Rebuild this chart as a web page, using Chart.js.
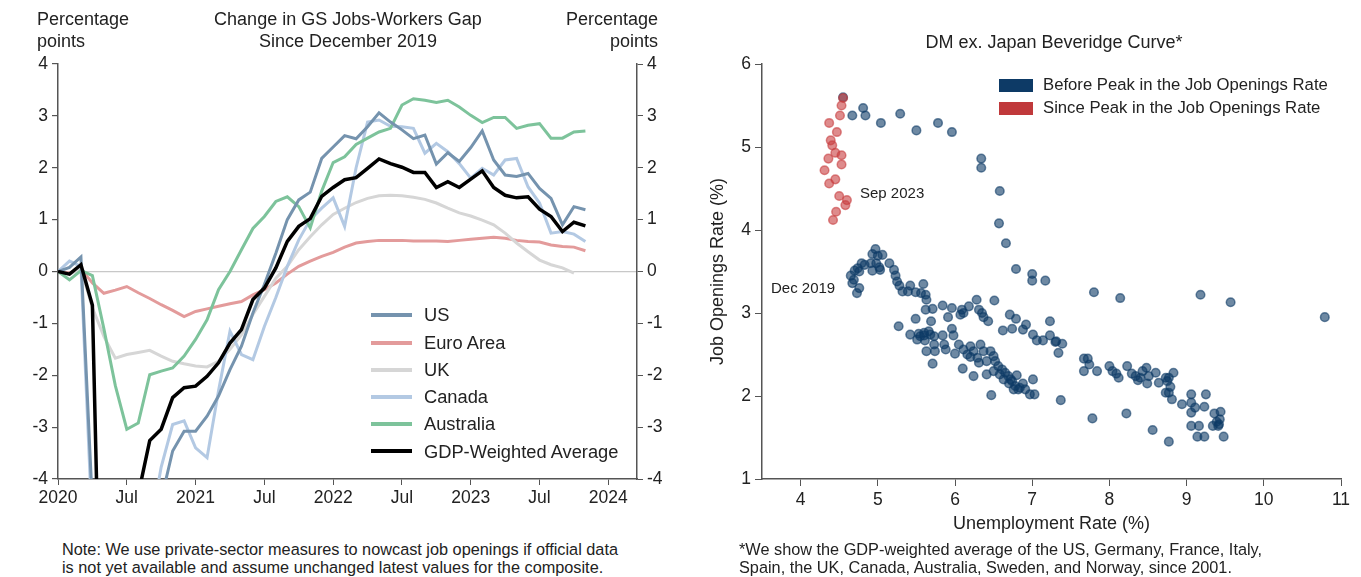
<!DOCTYPE html>
<html>
<head>
<meta charset="utf-8">
<script src="https://cdn.jsdelivr.net/npm/chart.js@4.4.1/dist/chart.umd.min.js"></script>
<style>
body { margin: 0; background: #fff; width: 1361px; height: 577px; overflow: hidden; position: relative;
       font-family: "Liberation Sans", Arial, sans-serif; color: #222; }
.t { position: absolute; white-space: nowrap; }
.hdr { font-size: 18px; line-height: 22px; }
.leg { font-size: 18.3px; line-height: 20px; }
.leg2 { font-size: 16.7px; line-height: 20px; }
.note { font-size: 16.3px; line-height: 17.5px; }
.swatch { position: absolute; height: 4px; width: 41px; left: 371px; }
#wrap1 { position: absolute; left: 0; top: 0; }
#wrap2 { position: absolute; left: 680px; top: 0; }
</style>
</head>
<body>
<div id="wrap1"><canvas id="gapChart" width="690" height="510"></canvas></div>
<div id="wrap2"><canvas id="beveridgeChart" width="681" height="540"></canvas></div>

<!-- left panel texts -->
<div class="t hdr" style="left:37px;top:8px;">Percentage<br>points</div>
<div class="t hdr" style="left:148px;top:8px;width:400px;text-align:center;">Change in GS Jobs-Workers Gap<br>Since December 2019</div>
<div class="t hdr" style="left:558px;top:8px;width:100px;text-align:right;">Percentage<br>points</div>

<div class="swatch" style="top:313px;background:#7593ae;"></div>
<div class="swatch" style="top:341px;background:#e39b9b;"></div>
<div class="swatch" style="top:368px;background:#d6d6d6;"></div>
<div class="swatch" style="top:395px;background:#b3c9e3;"></div>
<div class="swatch" style="top:422px;background:#7dc39b;"></div>
<div class="swatch" style="top:449px;background:#000;height:4px;"></div>
<div class="t leg" style="left:424px;top:305px;">US</div>
<div class="t leg" style="left:424px;top:333px;">Euro Area</div>
<div class="t leg" style="left:424px;top:360px;">UK</div>
<div class="t leg" style="left:424px;top:387px;">Canada</div>
<div class="t leg" style="left:424px;top:414px;">Australia</div>
<div class="t leg" style="left:424px;top:442px;">GDP-Weighted Average</div>

<div class="t note" style="left:62px;top:541px;">Note: We use private-sector measures to nowcast job openings if official data<br>is not yet available and assume unchanged latest values for the composite.</div>

<!-- right panel texts -->
<div class="t hdr" style="left:854px;top:31px;width:400px;text-align:center;">DM ex. Japan Beveridge Curve*</div>
<div class="t" style="left:999px;top:79px;width:34px;height:13px;background:#0d3a66;"></div>
<div class="t" style="left:999px;top:102px;width:34px;height:13px;background:#c0393b;"></div>
<div class="t leg2" style="left:1043px;top:75px;">Before Peak in the Job Openings Rate</div>
<div class="t leg2" style="left:1043px;top:98px;">Since Peak in the Job Openings Rate</div>
<div class="t" style="left:860px;top:184px;font-size:15px;line-height:18px;">Sep 2023</div>
<div class="t" style="left:771px;top:279px;font-size:15px;line-height:18px;">Dec 2019</div>

<div class="t note" style="left:739px;top:541px;">*We show the GDP-weighted average of the US, Germany, France, Italy,<br>Spain, the UK, Canada, Australia, Sweden, and Norway, since 2001.</div>

<script>
// months since Jan 2020, index 0 = start of each series
const xTickMonths = [0, 6, 12, 18, 24, 30, 36, 42, 48];
const xTickLabels = ['2020', 'Jul', '2021', 'Jul', '2022', 'Jul', '2023', 'Jul', '2024'];

const usGap = [0, 0.08, 0.28, -4.5, -9, -9, -8, -7, -5.5, -4.4, -3.46, -3.08, -3.08, -2.79, -2.4, -1.89, -1.44, -0.8, -0.25, 0.35,
  1.0, 1.38, 1.53, 2.18, 2.4, 2.62, 2.56, 2.79, 3.06, 2.88, 2.73, 2.56, 2.63, 2.07, 2.29, 2.12, 2.39, 2.71, 2.15, 1.86,
  1.83, 1.89, 1.6, 1.41, 0.9, 1.25, 1.19];
const euroGap = [0, -0.03, 0.05, -0.22, -0.42, -0.36, -0.29, -0.41, -0.52, -0.64, -0.75, -0.87, -0.77, -0.72, -0.67, -0.62, -0.58, -0.45, -0.35, -0.22,
  -0.05, 0.1, 0.2, 0.29, 0.37, 0.47, 0.55, 0.58, 0.6, 0.6, 0.6, 0.59, 0.59, 0.59, 0.58, 0.6, 0.62, 0.64, 0.66, 0.64,
  0.6, 0.58, 0.57, 0.51, 0.48, 0.47, 0.4];
const ukGap = [0, -0.05, 0.05, -0.7, -1.25, -1.67, -1.6, -1.56, -1.52, -1.63, -1.73, -1.78, -1.82, -1.84, -1.73, -1.5, -1.22, -0.83, -0.48, -0.13,
  0.1, 0.42, 0.67, 0.9, 1.1, 1.22, 1.33, 1.41, 1.46, 1.47, 1.46, 1.43, 1.39, 1.32, 1.22, 1.13, 1.07, 0.99, 0.9, 0.74,
  0.55, 0.38, 0.22, 0.13, 0.07, -0.03];
const canadaGap = [0, 0.2, 0.1, -5, -9, -9, -8, -6, -5, -3.77, -2.95, -2.88, -3.4, -3.59, -2.3, -1.15, -1.6, -1.7, -1.06, -0.5,
  0.1, 0.61, 1.0, 1.22, 1.42, 0.87, 2.0, 2.88, 2.92, 2.8, 2.79, 2.76, 2.28, 2.47, 2.31, 2.08, 1.8, 1.99, 1.86, 2.15,
  2.18, 1.63, 1.32, 0.74, 0.77, 0.72, 0.58];
const australiaGap = [0, -0.16, 0.02, -0.08, -1.1, -2.2, -3.04, -2.92, -1.99, -1.92, -1.86, -1.63, -1.31, -0.93, -0.35, 0.0, 0.42, 0.83, 1.06, 1.35,
  1.44, 1.25, 0.84, 1.55, 2.1, 2.21, 2.45, 2.57, 2.69, 2.76, 3.21, 3.33, 3.3, 3.26, 3.3, 3.17, 3.01, 2.87, 2.97, 2.97,
  2.76, 2.82, 2.85, 2.57, 2.57, 2.69, 2.71];
const weightedGap = [0, -0.05, 0.13, -0.65, -10, -9, -7, -4.3, -3.26, -3.04, -2.43, -2.24, -2.21, -2.02, -1.76, -1.38, -1.12, -0.54, -0.32, 0.07,
  0.58, 0.87, 1.02, 1.45, 1.62, 1.77, 1.81, 1.99, 2.17, 2.08, 2.01, 1.91, 1.91, 1.62, 1.73, 1.62, 1.78, 1.94, 1.62, 1.47,
  1.42, 1.44, 1.2, 1.06, 0.77, 0.95, 0.88];

// Beveridge curve: unemployment rate (%) vs job openings rate (%)
const beforeUnemp = [4.55, 4.67, 4.81, 4.84, 5.04, 5.29, 5.50, 5.78, 5.96, 6.34, 6.34, 6.58, 6.57, 6.66, 6.79, 7.00, 7.00, 7.17,
  6.51, 6.71, 6.79, 6.92, 7.23, 6.62, 6.74, 6.88, 7.01, 7.06, 7.14, 7.23, 7.31, 7.39, 7.34,
  4.97, 4.93, 5.00, 5.06, 4.79, 4.83, 4.74, 4.91, 4.98, 5.02, 4.93, 5.03, 4.70, 4.76, 4.65, 4.69, 4.67, 4.76, 4.73,
  5.15, 5.21, 5.23, 5.25, 5.28, 5.32, 5.42, 5.39, 5.49, 5.59, 5.56, 5.62, 5.63, 5.84, 5.96, 5.62, 5.71, 6.09, 6.18,
  6.28, 6.31, 6.07, 6.11, 6.35, 6.37, 6.43, 5.91, 5.69, 5.49, 5.27, 5.42, 5.53, 5.60, 5.51, 5.66, 5.73, 5.84, 5.96,
  5.98, 5.86, 5.61, 5.73, 5.63, 5.74, 5.71, 5.88, 6.00, 6.05, 6.11, 6.16, 6.20, 6.24, 6.33, 6.37, 6.29, 6.20, 6.46,
  6.50, 6.52, 6.41, 6.31, 6.10, 6.24, 6.41, 6.50, 6.56, 6.61, 6.58, 6.65, 6.69, 6.63, 6.74, 6.78, 6.84, 6.88, 6.91,
  6.82, 6.76, 6.97, 7.03, 7.01, 6.47, 7.37, 7.80, 8.14, 9.18, 9.57, 10.79, 7.30, 7.67, 7.72, 7.67, 7.74, 7.84, 8.00,
  8.04, 8.09, 8.12, 8.23, 8.29, 8.34, 8.37, 8.43, 8.48, 8.51, 8.49, 8.60, 8.64, 8.73, 8.77, 8.83, 8.79, 8.73, 8.77,
  8.81, 9.06, 9.25, 9.06, 8.94, 9.11, 9.23, 9.06, 9.36, 9.44, 9.39, 9.41, 9.34, 9.06, 9.16, 9.14, 9.23, 9.48, 8.77,
  8.56, 8.22, 7.78, 6.70, 6.72, 6.80, 5.60, 5.55, 5.68, 8.40, 8.75, 9.42, 9.43];
const beforeOpenings = [5.60, 5.38, 5.47, 5.38, 5.29, 5.40, 5.20, 5.29, 5.18, 4.86, 4.75, 4.47, 4.08, 3.84, 3.53, 3.47, 3.39, 3.39,
  3.15, 2.98, 2.93, 2.86, 2.90, 2.79, 2.81, 2.80, 2.74, 2.67, 2.67, 2.73, 2.66, 2.63, 2.52,
  3.77, 3.71, 3.69, 3.70, 3.60, 3.58, 3.54, 3.60, 3.60, 3.55, 3.51, 3.52, 3.51, 3.50, 3.45, 3.40, 3.36, 3.30, 3.24,
  3.60, 3.52, 3.45, 3.38, 3.33, 3.26, 3.33, 3.26, 3.25, 3.35, 3.24, 3.22, 3.16, 3.09, 3.06, 3.04, 3.05, 3.04, 3.08,
  3.16, 3.04, 2.98, 3.00, 3.00, 2.95, 2.90, 2.95, 2.90, 2.93, 2.84, 2.74, 2.75, 2.73, 2.68, 2.78, 2.72, 2.73, 2.81,
  2.73, 2.62, 2.67, 2.62, 2.54, 2.54, 2.39, 2.56, 2.51, 2.62, 2.56, 2.50, 2.60, 2.54, 2.62, 2.54, 2.46, 2.47, 2.54,
  2.48, 2.42, 2.42, 2.40, 2.33, 2.24, 2.26, 2.30, 2.36, 2.32, 2.26, 2.28, 2.24, 2.20, 2.18, 2.12, 2.10, 2.15, 2.08,
  2.08, 2.08, 2.02, 2.02, 2.20, 2.01, 1.95, 3.25, 3.18, 3.22, 3.13, 2.95, 2.65, 2.45, 2.45, 2.30, 2.38, 2.30, 2.36,
  2.30, 2.27, 2.22, 2.36, 2.27, 2.24, 2.19, 2.30, 2.34, 2.24, 2.15, 2.28, 2.16, 2.22, 2.22, 2.28, 2.11, 2.04, 2.04,
  1.96, 2.02, 2.02, 1.92, 1.90, 1.86, 1.87, 1.80, 1.79, 1.81, 1.69, 1.64, 1.64, 1.64, 1.64, 1.51, 1.51, 1.51, 1.45,
  1.59, 1.79, 1.73, 2.15, 2.20, 2.25, 2.76, 2.72, 2.74, 2.22, 2.18, 1.66, 1.72];
const sinceUnemp = [4.55, 4.53, 4.51, 4.37, 4.47, 4.39, 4.41, 4.45, 4.53, 4.36, 4.53, 4.31, 4.45, 4.37, 4.50, 4.60, 4.58, 4.46, 4.42];
const sinceOpenings = [5.59, 5.50, 5.38, 5.29, 5.18, 5.08, 5.02, 4.93, 4.90, 4.86, 4.79, 4.72, 4.61, 4.56, 4.41, 4.36, 4.30, 4.22, 4.12];

Chart.defaults.font.family = '"Liberation Sans", Arial, sans-serif';
Chart.defaults.color = '#222';

function toPoints(values) {
    return values.map((v, i) => ({ x: i, y: v }));
}

function lineSet(label, values, color, width, order) {
    return {
        label: label,
        data: toPoints(values),
        borderColor: color,
        borderWidth: width,
        pointRadius: 0,
        tension: 0,
        order: order
    };
}

const axisColor = '#555';
const tickFont = { size: 17.5 };

// left panel: jobs-workers gap
const gapChart = new Chart(document.getElementById('gapChart').getContext('2d'), {
    type: 'line',
    data: {
        datasets: [
            lineSet('Euro Area', euroGap, '#e39b9b', 3, 6),
            lineSet('UK', ukGap, '#d6d6d6', 3, 5),
            lineSet('Canada', canadaGap, '#b3c9e3', 3, 4),
            lineSet('Australia', australiaGap, '#7dc39b', 3, 3),
            lineSet('US', usGap, '#7593ae', 3, 2),
            lineSet('GDP-Weighted Average', weightedGap, '#000000', 3.5, 1)
        ]
    },
    options: {
        responsive: false,
        animation: false,
        layout: { padding: { top: 64, left: 0, right: 0, bottom: 0 } },
        plugins: { legend: { display: false }, tooltip: { enabled: false } },
        scales: {
            x: {
                type: 'linear',
                min: 0,
                max: 50.5,
                afterBuildTicks: axis => { axis.ticks = xTickMonths.map(v => ({ value: v })); },
                afterFit: axis => { axis.height = 31; },
                ticks: {
                    autoSkip: false, maxRotation: 0, padding: 3, font: tickFont,
                    callback: (value, index) => xTickLabels[index]
                },
                grid: { drawOnChartArea: false, tickLength: 6, tickColor: axisColor },
                border: { color: axisColor, width: 1.5 }
            },
            y: {
                position: 'left',
                min: -4,
                max: 4,
                afterFit: axis => { axis.width = 58; },
                ticks: { stepSize: 1, padding: 4, font: tickFont },
                grid: {
                    drawOnChartArea: true, tickLength: 6, tickColor: axisColor,
                    color: ctx => (ctx.tick && ctx.tick.value === 0) ? '#c8c8c8' : 'rgba(0,0,0,0)',
                    lineWidth: 1.2
                },
                border: { color: axisColor, width: 1.5 }
            },
            y2: {
                position: 'right',
                min: -4,
                max: 4,
                afterFit: axis => { axis.width = 53; },
                ticks: { stepSize: 1, padding: 4, font: tickFont },
                grid: { drawOnChartArea: false, tickLength: 6, tickColor: axisColor },
                border: { color: axisColor, width: 1.5 }
            }
        }
    }
});

// right panel: Beveridge curve
function zip(xs, ys) {
    return xs.map((x, i) => ({ x: x, y: ys[i] }));
}

const beveridgeChart = new Chart(document.getElementById('beveridgeChart').getContext('2d'), {
    type: 'scatter',
    data: {
        datasets: [
            {
                label: 'Since Peak in the Job Openings Rate',
                data: zip(sinceUnemp, sinceOpenings),
                backgroundColor: 'rgba(200, 62, 64, 0.6)',
                borderColor: 'rgba(200, 62, 64, 0.6)',
                borderWidth: 1.5,
                pointRadius: 4.3,
                order: 0
            },
            {
                label: 'Before Peak in the Job Openings Rate',
                data: zip(beforeUnemp, beforeOpenings),
                backgroundColor: 'rgba(14, 58, 102, 0.6)',
                borderColor: 'rgba(14, 58, 102, 0.6)',
                borderWidth: 1.5,
                pointRadius: 4.3,
                order: 1
            }
        ]
    },
    options: {
        responsive: false,
        animation: false,
        layout: { padding: { top: 64, left: 0, right: 20, bottom: 0 } },
        plugins: { legend: { display: false }, tooltip: { enabled: false } },
        scales: {
            x: {
                type: 'linear',
                min: 3.5,
                max: 11,
                afterBuildTicks: axis => { axis.ticks = [4, 5, 6, 7, 8, 9, 10, 11].map(v => ({ value: v })); },
                afterFit: axis => { axis.height = 61; },
                ticks: { autoSkip: false, maxRotation: 0, padding: 4, font: tickFont },
                grid: { drawOnChartArea: false, tickLength: 7, tickColor: axisColor },
                border: { color: axisColor, width: 1.5 },
                title: { display: true, text: 'Unemployment Rate (%)', font: { size: 18 }, padding: { top: 0, bottom: 5 } }
            },
            y: {
                min: 1,
                max: 6,
                afterFit: axis => { axis.width = 82; },
                ticks: { stepSize: 1, padding: 4, font: tickFont },
                grid: { drawOnChartArea: false, tickLength: 7, tickColor: axisColor },
                border: { color: axisColor, width: 1.5 },
                title: { display: true, text: 'Job Openings Rate (%)', font: { size: 18 }, padding: { top: 27, bottom: 0 } }
            }
        }
    }
});
</script>
</body>
</html>
